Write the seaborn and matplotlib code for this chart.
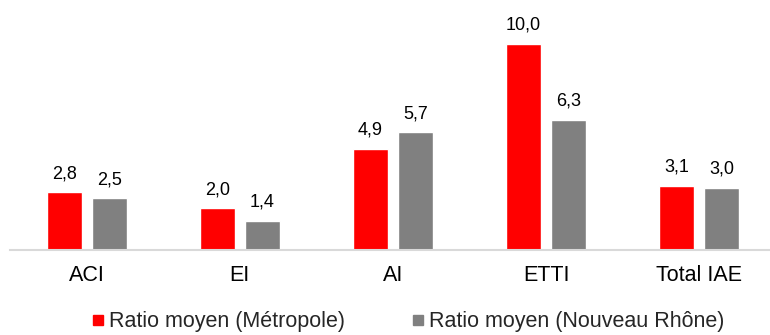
import matplotlib
matplotlib.use("Agg")
import matplotlib.pyplot as plt
from matplotlib.lines import Line2D
import seaborn as sns
import pandas as pd

categories = ["ACI", "EI", "AI", "ETTI", "Total IAE"]
metropole = [2.8, 2.0, 4.9, 10.0, 3.1]
nouveau_rhone = [2.5, 1.4, 5.7, 6.3, 3.0]
series_names = ["Ratio moyen (Métropole)", "Ratio moyen (Nouveau Rhône)"]
colors = ["#FF0000", "#808080"]

df = pd.DataFrame({
    "categorie": categories * 2,
    "ratio": metropole + nouveau_rhone,
    "serie": [series_names[0]] * len(categories) + [series_names[1]] * len(categories),
})

sns.set_style("white")
plt.rcParams["font.family"] = ["Liberation Sans", "DejaVu Sans"]

fig = plt.figure(figsize=(7.7, 3.35), dpi=100)
ax = fig.add_axes([10 / 770, 85.5 / 335, 760 / 770, 226.6 / 335])

sns.barplot(data=df, x="categorie", y="ratio", hue="serie", order=categories,
            hue_order=series_names, palette=colors, width=0.588, gap=0.22,
            saturation=1, ax=ax, legend=False)

ax.set_xlim(-0.5, 4.5 - 6 / 153)
ax.set_ylim(0, 11)
ax.set_xlabel("")
ax.set_ylabel("")
ax.set_yticks([])
for side in ["top", "right", "left"]:
    ax.spines[side].set_visible(False)
ax.spines["bottom"].set_color("#D9D9D9")
ax.spines["bottom"].set_linewidth(1.5)
ax.tick_params(axis="x", length=0, pad=11, labelsize=15.5, colors="#000000")

for container in ax.containers:
    labels = [f"{b.get_height():.1f}".replace(".", ",") for b in container]
    ax.bar_label(container, labels=labels, padding=7, fontsize=13, color="#000000")

handles = [Line2D([0], [0], marker="s", linestyle="", markersize=7.3,
                  markerfacecolor=c, markeredgecolor=c) for c in colors]
fig.legend(handles, series_names, loc="center", bbox_to_anchor=(408.5 / 770, 13 / 335),
           ncol=2, frameon=False, fontsize=15.5, handletextpad=0.3,
           columnspacing=3.1, handlelength=0.5)

fig.savefig("out.png", dpi=100)
